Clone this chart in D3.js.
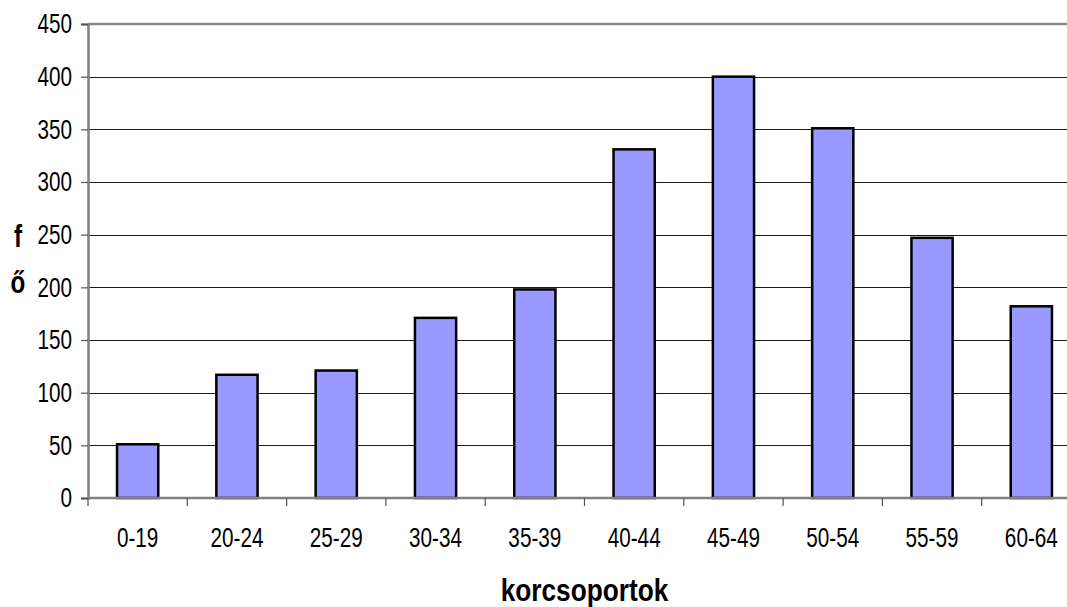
<!DOCTYPE html>
<html>
<head>
<meta charset="utf-8">
<script src="https://cdn.jsdelivr.net/npm/d3@7"></script>
<style>
  html, body { margin: 0; padding: 0; background: #fff; }
  svg { display: block; }
  text { font-family: "Liberation Sans", Arial, Helvetica, sans-serif; fill: #000; }
</style>
</head>
<body>
<svg id="chart" width="1067" height="607"></svg>
<script>
// Age groups and head counts
const categories = ["0-19", "20-24", "25-29", "30-34", "35-39", "40-44", "45-49", "50-54", "55-59", "60-64"];
const counts = [51, 117, 121, 171, 198, 331, 400, 351, 247, 182];
const yTicks = [0, 50, 100, 150, 200, 250, 300, 350, 400, 450];

const svg = d3.select("#chart");
const plotLeft = 88, plotRight = 1081, plotTop = 24, plotBottom = 498;

// move a text's x/y into a transform so it can be narrowed horizontally
function narrow(sel, k) {
  sel.each(function () {
    const t = d3.select(this);
    const tx = +t.attr("x") || 0, ty = +t.attr("y") || 0;
    t.attr("x", null).attr("y", null)
      .attr("transform", `translate(${tx},${ty}) scale(${k},1)`);
  });
}

const x = d3.scaleBand().domain(categories).range([plotLeft, plotRight])
  .paddingInner(0.585).paddingOuter(0.2925);
const y = d3.scaleLinear().domain([0, 450]).range([plotBottom, plotTop]);

// horizontal gridlines
svg.append("g").selectAll("line").data(yTicks.filter(d => d > 0 && d < 450)).join("line")
  .attr("x1", plotLeft).attr("x2", 1067)
  .attr("y1", d => Math.round(y(d)) + 0.5).attr("y2", d => Math.round(y(d)) + 0.5)
  .attr("stroke", "#1a1a1a").attr("stroke-width", 1);

// top border of the plot area
svg.append("line").attr("x1", plotLeft).attr("x2", 1067)
  .attr("y1", y(450)).attr("y2", y(450))
  .attr("stroke", "#888").attr("stroke-width", 2.5);

// bars
svg.append("g").selectAll("rect").data(categories).join("rect")
  .attr("x", d => x(d))
  .attr("y", (d, i) => y(counts[i]))
  .attr("width", x.bandwidth())
  .attr("height", (d, i) => y(0) - y(counts[i]))
  .attr("fill", "#9999ff")
  .attr("stroke", "#000")
  .attr("stroke-width", 2.5);

// y axis
const yAxis = d3.axisLeft(y).tickValues(yTicks).tickSize(7).tickPadding(9);
const gy = svg.append("g").attr("transform", `translate(${plotLeft},0)`).call(yAxis);
gy.attr("font-family", null).attr("font-size", null);
gy.select(".domain").attr("stroke", "#808080").attr("stroke-width", 2.5);
gy.selectAll(".tick line").attr("stroke", "#555").attr("stroke-width", 1.2);
gy.selectAll(".tick text").attr("font-size", 28).attr("dy", "0.32em").call(narrow, 0.74);

// x axis line
svg.append("line").attr("x1", plotLeft).attr("x2", 1067)
  .attr("y1", y(0)).attr("y2", y(0))
  .attr("stroke", "#808080").attr("stroke-width", 2.5);

// x tick marks at category boundaries
const bounds = d3.range(categories.length).map(i => plotLeft + i * x.step());
svg.append("g").selectAll("line").data(bounds).join("line")
  .attr("x1", d => d).attr("x2", d => d)
  .attr("y1", y(0)).attr("y2", y(0) + 8)
  .attr("stroke", "#555").attr("stroke-width", 1.2);

// category labels
svg.append("g").selectAll("text").data(categories).join("text")
  .attr("x", d => x(d) + x.bandwidth() / 2)
  .attr("y", 547)
  .attr("text-anchor", "middle")
  .attr("font-size", 28)
  .text(d => d)
  .call(narrow, 0.74);

// axis titles
svg.append("text").attr("x", (plotLeft + plotRight) / 2).attr("y", 601)
  .attr("text-anchor", "middle").attr("font-size", 32).attr("font-weight", "bold")
  .text("korcsoportok")
  .call(narrow, 0.82);

const yTitle = "fő".split("");
svg.append("g").selectAll("text").data(yTitle).join("text")
  .attr("x", 18).attr("y", (d, i) => 247 + i * 46)
  .attr("text-anchor", "middle").attr("font-size", 31).attr("font-weight", "bold")
  .text(d => d)
  .call(narrow, 0.78);
</script>
</body>
</html>
